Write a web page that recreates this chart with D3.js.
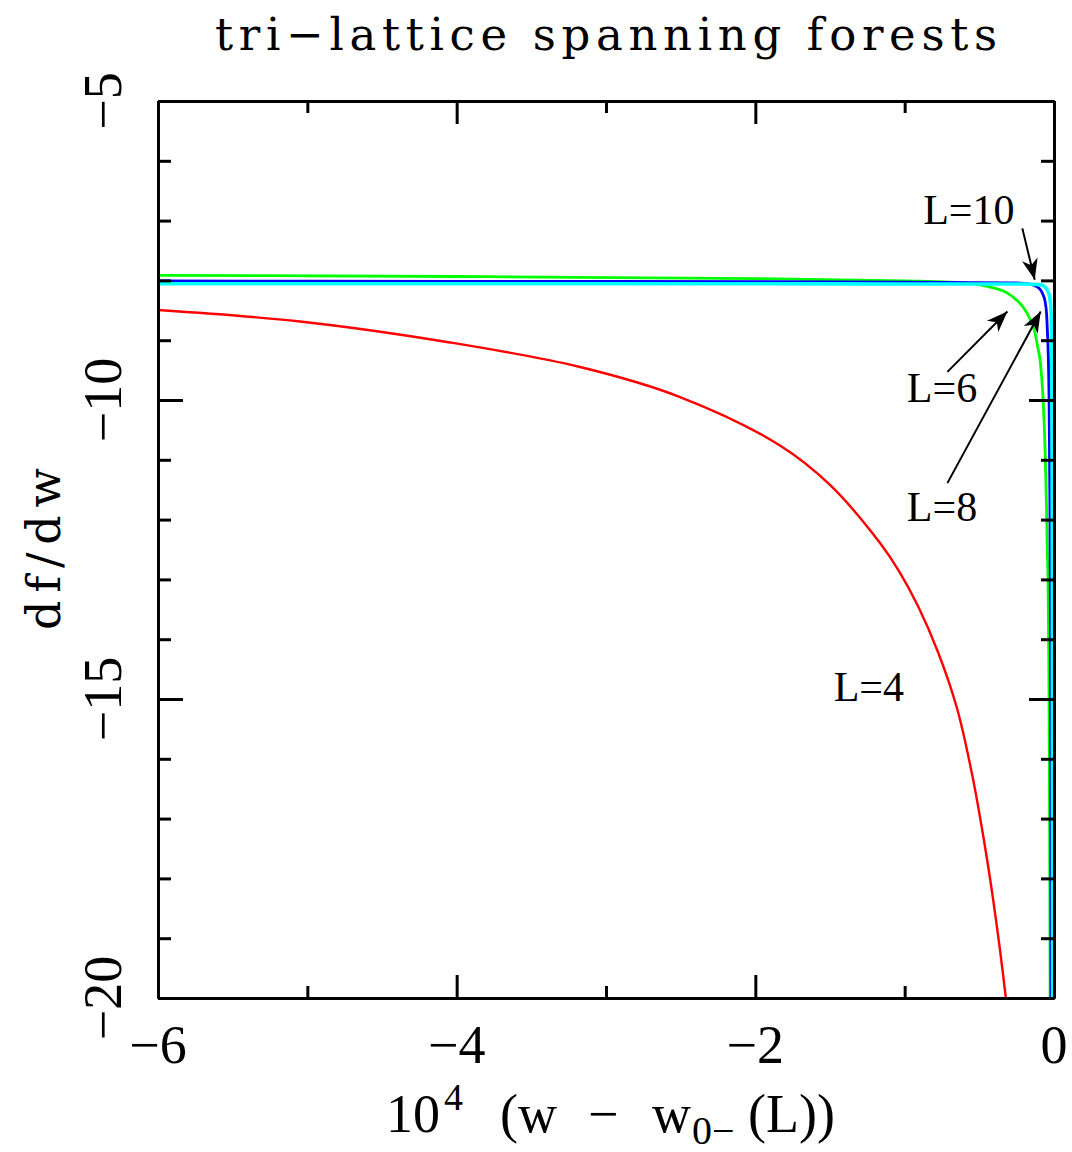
<!DOCTYPE html>
<html lang="en">

<head>
    <meta charset="UTF-8">
    <title>tri-lattice spanning forests</title>
    <script src="https://d3js.org/d3.v7.min.js"></script>
    <style>
        body { margin: 0; background: white; }
        text { fill: black; }
    </style>
</head>

<body>
    <div id="chart"></div>
    <script>
        // values (x = 10^4 (w - w0-(L)), y = df/dw)
        const xL4 = [-6, -5.049, -4.045, -3.174, -2.504, -1.835, -1.5, -1.165, -1.038, -0.911, -0.777, -0.65, -0.549, -0.475, -0.408, -0.321, -0.308];
        const yL4 = [-8.495, -8.687, -9.038, -9.448, -9.95, -10.76, -11.42, -12.391, -12.86, -13.445, -14.214, -15.151, -16.254, -17.274, -18.344, -20.033, -20.37];

        const xL6 = [-6, -4, -2, -1, -0.7, -0.5, -0.4, -0.32, -0.25, -0.2, -0.16, -0.13, -0.11, -0.09, -0.075, -0.06, -0.05, -0.045, -0.04, -0.035, -0.031, -0.028, -0.026, -0.024];
        const yL6 = [-7.915, -7.935, -7.97, -8.01, -8.03, -8.07, -8.13, -8.2, -8.33, -8.47, -8.65, -8.85, -9.1, -9.4, -9.9, -10.8, -11.8, -12.5, -13.0, -14.3, -16.0, -18.0, -20.0, -21];

        const xL8 = [-6, -4, -2, -1, -0.3, -0.2, -0.15, -0.12, -0.09, -0.075, -0.06, -0.05, -0.045, -0.038, -0.033, -0.028, -0.025, -0.022, -0.02, -0.019];
        const yL8 = [-8.01, -8.015, -8.02, -8.03, -8.04, -8.05, -8.07, -8.1, -8.16, -8.23, -8.35, -8.55, -8.8, -9.3, -10.0, -11.5, -13.0, -16.0, -20.0, -21];

        const xL10 = [-6, -4, -2, -1, -0.2, -0.1, -0.078, -0.06, -0.045, -0.035, -0.029, -0.022, -0.018, -0.015, -0.013, -0.011, -0.01, -0.009, -0.0085];
        const yL10 = [-8.055, -8.055, -8.055, -8.06, -8.06, -8.07, -8.08, -8.11, -8.16, -8.22, -8.28, -8.42, -8.7, -9.3, -10.5, -13.0, -16.0, -20.0, -21];

        const seriesNames = ["L=4", "L=6", "L=8", "L=10"];
        const seriesX = [xL4, xL6, xL8, xL10];
        const seriesY = [yL4, yL6, yL8, yL10];

        const xMajorTicks = [-6, -4, -2, 0];
        const xMinorTicks = [-5, -3, -1];
        const yMajorTicks = [-5, -10, -15, -20];
        const yMinorTicks = [-6, -7, -8, -9, -11, -12, -13, -14, -16, -17, -18, -19];

        // curve labels and arrows, in data units
        const labelText = ["L=10", "L=6", "L=8", "L=4"];
        const labelX = [-0.57, -0.75, -0.75, -1.24];
        const labelY = [-7.05, -10.03, -12.02, -15.03];
        const arrowFrom = [[-0.212, -7.13], [-0.714, -9.53], [-0.714, -11.39]];
        const arrowTo = [[-0.129, -7.99], [-0.312, -8.52], [-0.089, -8.52]];

        const width = 1072, height = 1152;
        const margin = { top: 101, right: 18, bottom: 154, left: 158 };
        const serif = "'Liberation Serif', 'DejaVu Serif', serif";
        const wideSerif = "'DejaVu Serif', serif";

        const svg = d3.select("#chart").append("svg")
            .attr("width", width)
            .attr("height", height)
            .style("font-family", serif);

        const x = d3.scaleLinear().domain([-6, 0]).range([margin.left, width - margin.right]);
        const y = d3.scaleLinear().domain([-20, -5]).range([height - margin.bottom, margin.top]);

        const colors = ["#ff0000", "#00ff00", "#0000ff", "#00ffff"];
        const widths = [2.4, 2.8, 2.8, 3.6];

        svg.append("clipPath").attr("id", "plot-clip")
            .append("rect")
            .attr("x", x(-6)).attr("y", y(-5))
            .attr("width", x(0) - x(-6)).attr("height", y(-20) - y(-5));

        // curves: the smooth L=4 curve uses Catmull-Rom, the sharp-cornered ones monotone
        const line = d3.line()
            .x(d => x(d[0]))
            .y(d => y(d[1]));

        const curves = svg.append("g").attr("clip-path", "url(#plot-clip)");
        seriesNames.forEach((name, i) => {
            const pts = seriesX[i].map((v, j) => [v, seriesY[i][j]]);
            line.curve(i === 0 ? d3.curveCatmullRom.alpha(0.5) : d3.curveMonotoneX);
            curves.append("path")
                .datum(pts)
                .attr("fill", "none")
                .attr("stroke", colors[i])
                .attr("stroke-width", widths[i])
                .attr("d", line);
        });

        // axes frame with inward ticks on all four sides
        function drawAxis(axis, tx, ty) {
            const g = svg.append("g").attr("transform", `translate(${tx},${ty})`).call(axis);
            g.selectAll("path.domain").attr("stroke-width", 3).attr("stroke", "black");
            g.selectAll(".tick line").attr("stroke-width", 3).attr("stroke", "black");
            g.selectAll(".tick text").remove();
        }
        const x0 = x(-6), x1 = x(0), y0 = y(-20), y1 = y(-5);
        drawAxis(d3.axisBottom(x).tickValues(xMajorTicks).tickSize(-23).tickSizeOuter(0), 0, y0);
        drawAxis(d3.axisBottom(x).tickValues(xMinorTicks).tickSize(-12).tickSizeOuter(0), 0, y0);
        drawAxis(d3.axisTop(x).tickValues(xMajorTicks).tickSize(-23).tickSizeOuter(0), 0, y1);
        drawAxis(d3.axisTop(x).tickValues(xMinorTicks).tickSize(-12).tickSizeOuter(0), 0, y1);
        drawAxis(d3.axisLeft(y).tickValues(yMajorTicks).tickSize(-25).tickSizeOuter(0), x0, 0);
        drawAxis(d3.axisLeft(y).tickValues(yMinorTicks).tickSize(-13).tickSizeOuter(0), x0, 0);
        drawAxis(d3.axisRight(y).tickValues(yMajorTicks).tickSize(-25).tickSizeOuter(0), x1, 0);
        drawAxis(d3.axisRight(y).tickValues(yMinorTicks).tickSize(-13).tickSizeOuter(0), x1, 0);

        const fmt = v => (v < 0 ? "\u2212" : "") + Math.abs(v);

        // tick labels
        svg.append("g").selectAll("text")
            .data(xMajorTicks)
            .join("text")
            .attr("x", d => x(d))
            .attr("y", y0 + 65)
            .attr("text-anchor", "middle")
            .style("font-family", serif)
            .attr("font-size", 54)
            .text(fmt);

        svg.append("g").selectAll("text")
            .data(yMajorTicks)
            .join("text")
            .attr("transform", d => `translate(${x0 - 37},${y(d)}) rotate(-90)`)
            .attr("text-anchor", "middle")
            .style("font-family", serif)
            .attr("font-size", 54)
            .text(fmt);

        // title
        svg.append("text")
            .attr("x", 606)
            .attr("y", 50)
            .attr("text-anchor", "middle")
            .style("font-family", wideSerif)
            .attr("font-size", 45)
            .attr("textLength", 782)
            .attr("lengthAdjust", "spacing")
            .text("tri\u2212lattice spanning forests");

        // y label
        svg.append("text")
            .attr("transform", `translate(60,549) rotate(-90)`)
            .attr("text-anchor", "middle")
            .style("font-family", wideSerif)
            .attr("font-size", 46)
            .attr("textLength", 162)
            .attr("lengthAdjust", "spacing")
            .text("df/dw");

        // x label: 10^4 (w - w_{0-}(L))
        const xl = svg.append("text")
            .attr("x", 386)
            .attr("y", 1132)
            .style("font-family", serif)
            .attr("font-size", 54);
        xl.append("tspan").text("10");
        xl.append("tspan").attr("font-size", 38).attr("dy", -22).attr("dx", 4).text("4");
        xl.append("tspan").attr("dy", 22).attr("x", 500).text("(w");
        xl.append("tspan").attr("x", 588).text("\u2212");
        xl.append("tspan").attr("x", 652).text("w");
        xl.append("tspan").attr("font-size", 40).attr("dy", 12).attr("x", 692).text("0\u2212");
        xl.append("tspan").attr("dy", -12).attr("x", 748).text("(L))");

        // curve labels
        svg.append("g").selectAll("text")
            .data(labelText)
            .join("text")
            .attr("x", (d, i) => x(labelX[i]))
            .attr("y", (d, i) => y(labelY[i]))
            .attr("text-anchor", "middle")
            .style("font-family", serif)
            .attr("font-size", 42)
            .text(d => d);

        // arrows
        svg.append("defs").append("marker")
            .attr("id", "arrowhead")
            .attr("viewBox", "-22 -9 24 18")
            .attr("refX", 0).attr("refY", 0)
            .attr("markerWidth", 24).attr("markerHeight", 18)
            .attr("markerUnits", "userSpaceOnUse")
            .attr("orient", "auto")
            .append("path")
            .attr("d", "M0,0 L-21,-8 L-15,0 L-21,8 Z")
            .attr("fill", "black");

        svg.append("g").selectAll("line")
            .data(arrowFrom)
            .join("line")
            .attr("x1", d => x(d[0]))
            .attr("y1", d => y(d[1]))
            .attr("x2", (d, i) => x(arrowTo[i][0]))
            .attr("y2", (d, i) => y(arrowTo[i][1]))
            .attr("stroke", "black")
            .attr("stroke-width", 2)
            .attr("marker-end", "url(#arrowhead)");
    </script>
</body>

</html>
